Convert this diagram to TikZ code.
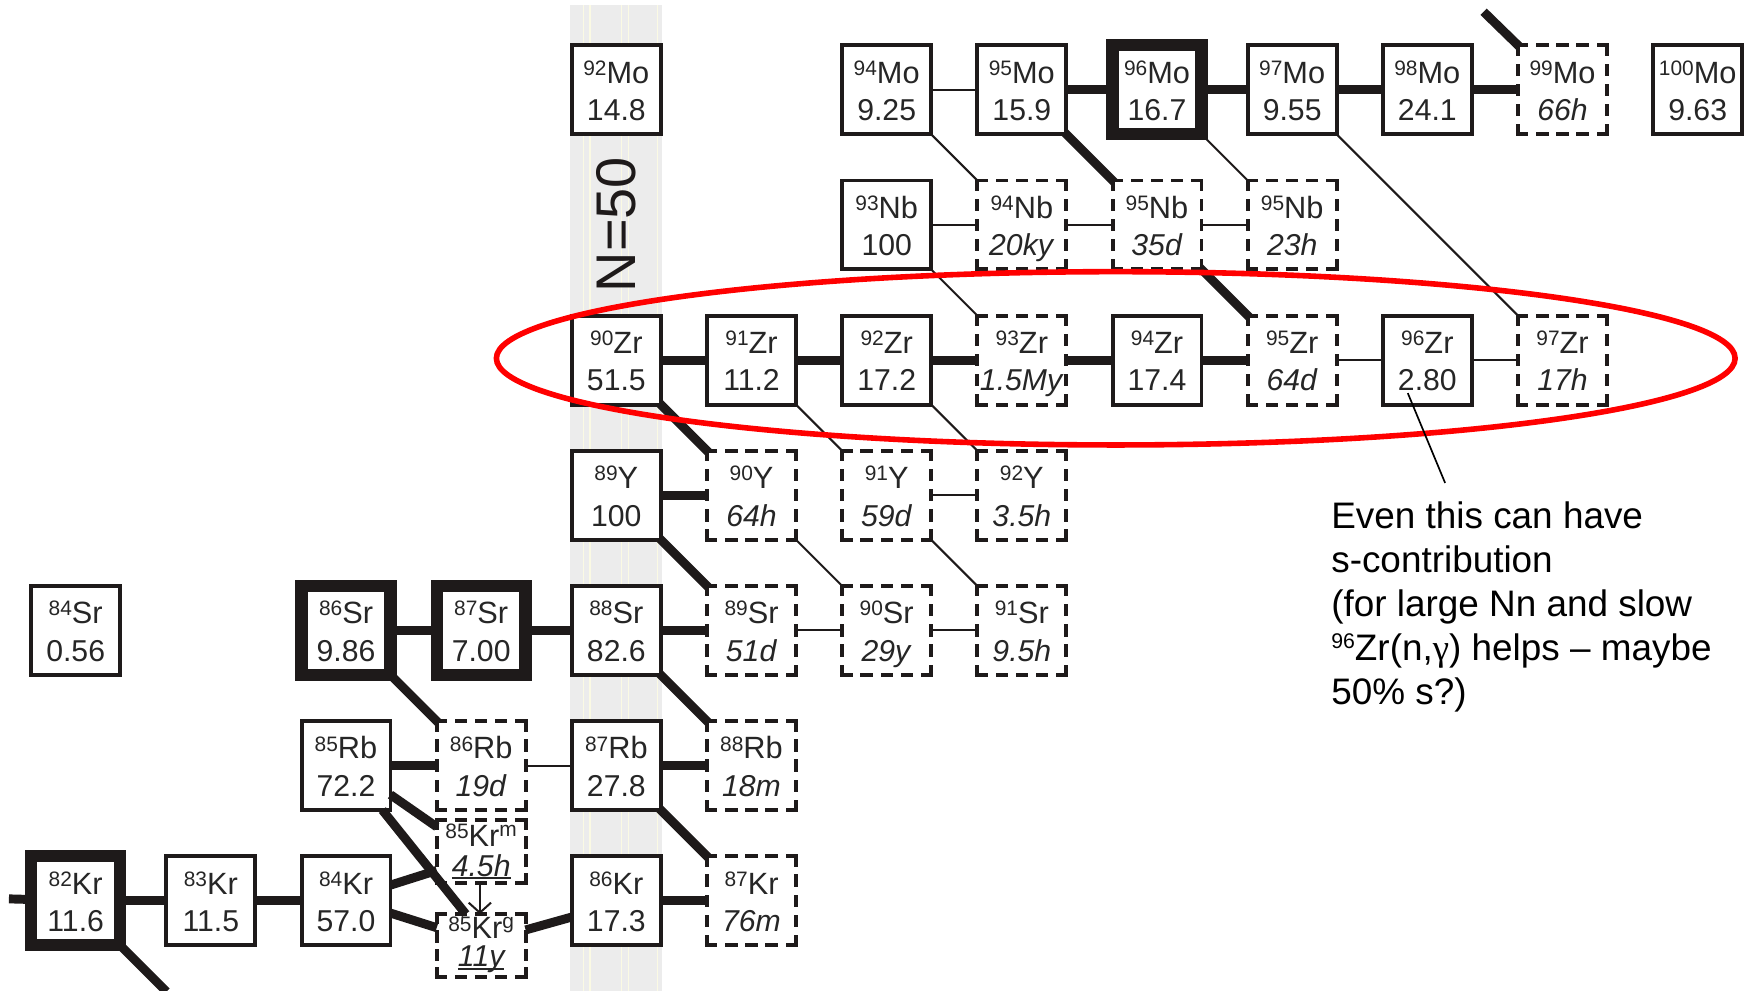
\documentclass[tikz,border=0pt]{standalone}
\usepackage{fontspec}
\setmainfont{Liberation Sans}
\newfontfamily\serifgreek{Liberation Serif}
\usetikzlibrary{calc,arrows.meta}
\pgfdeclarelayer{bg}
\pgfdeclarelayer{conn}
\pgfsetlayers{bg,conn,main}
\definecolor{ink}{HTML}{1E1A1A}
\definecolor{txt}{HTML}{262626}
\definecolor{bandgray}{HTML}{ECECEC}
\definecolor{bandline}{HTML}{FBFAE4}
\newcommand\ms[1]{\raisebox{7pt}{\fontsize{18.7}{18.7}\selectfont #1}}
\newcommand\sps[1]{\raisebox{9pt}{\fontsize{18.7}{18.7}\selectfont #1}}
\newcommand\ulx[1]{\leavevmode\setbox0=\hbox{#1}\rlap{\rule[-2.5pt]{\wd0}{1.3pt}}\box0}
\tikzset{
  box/.style={rectangle, draw=ink, line width=3.5pt, fill=white, minimum width=79.5pt, minimum height=79.5pt, inner sep=0pt, outer sep=0pt},
  bigbox/.style={box, line width=11pt},
  dbox/.style={box, draw=none},
  side/.style={draw=ink, line width=3.5pt, line cap=rect, dash pattern=on 7.5pt off 10.5pt},
  sidev/.style={side, dash pattern=on 7.5pt off 8.8pt},
  lbl/.style={anchor=base, inner sep=0pt, outer sep=0pt, text=txt, font=\fontsize{27.5}{27.5}\selectfont},
  vlbl/.style={lbl, font=\fontsize{27}{27}\selectfont},
  thickc/.style={draw=ink, line width=8pt, shorten <=-5pt, shorten >=-5pt},
  freec/.style={draw=ink, line width=8pt},
  thinc/.style={draw=ink, line width=1.8pt, shorten <=-3pt, shorten >=-3pt},
  mgc/.style={draw=ink, line width=8pt},
}
\newcommand\isot[7][box]{%
  \node[#1] (#2) at ({551.3+120.9*(#3-50)},{80.3+120.9*(42-#4)}) {};
  \node[lbl] (#2s) at ([yshift=6pt]#2.center) {\ms{#5}#6};
  \node[vlbl] (#2v) at ([yshift=-27.5pt]#2.center) {#7};
}
\newcommand\dsides[1]{%
  \draw[side] (#1.north west) -- (#1.north east);
  \draw[side] (#1.south west) -- (#1.south east);
  \draw[side] (#1.north west) -- (#1.south west);
  \draw[side] (#1.north east) -- (#1.south east);
}
\begin{document}
\begin{tikzpicture}[x=1pt, y=-1pt]
\useasboundingbox (0,0) rectangle (1568,886);
\begin{pgfonlayer}{bg}
  \fill[white] (0,0) rectangle (1568,886);
  \fill[bandgray] (509.8,4.5) rectangle (591.8,886);
  \foreach \lx in {521.8,527.7,556,562,588}
    \draw[bandline, line width=1.3pt] (\lx,4.5) -- (\lx,886);
\end{pgfonlayer}
\node[inner sep=0pt, rotate=90, text=ink, font=\fontsize{50}{50}\selectfont] (nlab) at (551.5,201) {N=50};

% Mo row
\isot{mo92}{50}{42}{92}{Mo}{14.8}
\isot{mo94}{52}{42}{94}{Mo}{9.25}
\isot{mo95}{53}{42}{95}{Mo}{15.9}
\isot[bigbox]{mo96}{54}{42}{96}{Mo}{16.7}
\isot{mo97}{55}{42}{97}{Mo}{9.55}
\isot{mo98}{56}{42}{98}{Mo}{24.1}
\isot[dbox]{mo99}{57}{42}{99}{Mo}{\textit{66h}}\dsides{mo99}
\isot{mo100}{58}{42}{100}{Mo}{9.63}
% Nb row
\isot{nb93}{52}{41}{93}{Nb}{100}
\isot[dbox]{nb94}{53}{41}{94}{Nb}{\textit{20ky}}\dsides{nb94}
\isot[dbox]{nb95}{54}{41}{95}{Nb}{\textit{35d}}\dsides{nb95}
\isot[dbox]{nb96}{55}{41}{95}{Nb}{\textit{23h}}\dsides{nb96}
% Zr row
\isot{zr90}{50}{40}{90}{Zr}{51.5}
\isot{zr91}{51}{40}{91}{Zr}{11.2}
\isot{zr92}{52}{40}{92}{Zr}{17.2}
\isot[dbox]{zr93}{53}{40}{93}{Zr}{\textit{1.5My}}\dsides{zr93}
\isot{zr94}{54}{40}{94}{Zr}{17.4}
\isot[dbox]{zr95}{55}{40}{95}{Zr}{\textit{64d}}\dsides{zr95}
\isot{zr96}{56}{40}{96}{Zr}{2.80}
\isot[dbox]{zr97}{57}{40}{97}{Zr}{\textit{17h}}\dsides{zr97}
% Y row
\isot{y89}{50}{39}{89}{Y}{100}
\isot[dbox]{y90}{51}{39}{90}{Y}{\textit{64h}}\dsides{y90}
\isot[dbox]{y91}{52}{39}{91}{Y}{\textit{59d}}\dsides{y91}
\isot[dbox]{y92}{53}{39}{92}{Y}{\textit{3.5h}}\dsides{y92}
% Sr row
\isot{sr84}{46}{38}{84}{Sr}{0.56}
\isot[bigbox]{sr86}{48}{38}{86}{Sr}{9.86}
\isot[bigbox]{sr87}{49}{38}{87}{Sr}{7.00}
\isot{sr88}{50}{38}{88}{Sr}{82.6}
\isot[dbox]{sr89}{51}{38}{89}{Sr}{\textit{51d}}\dsides{sr89}
\isot[dbox]{sr90}{52}{38}{90}{Sr}{\textit{29y}}\dsides{sr90}
\isot[dbox]{sr91}{53}{38}{91}{Sr}{\textit{9.5h}}\dsides{sr91}
% Rb row
\isot{rb85}{48}{37}{85}{Rb}{72.2}
\isot[dbox]{rb86}{49}{37}{86}{Rb}{\textit{19d}}\dsides{rb86}
\isot{rb87}{50}{37}{87}{Rb}{27.8}
\isot[dbox]{rb88}{51}{37}{88}{Rb}{\textit{18m}}\dsides{rb88}
% Kr row
\isot[bigbox]{kr82}{46}{36}{82}{Kr}{11.6}
\isot{kr83}{47}{36}{83}{Kr}{11.5}
\isot{kr84}{48}{36}{84}{Kr}{57.0}
\isot{kr86}{50}{36}{86}{Kr}{17.3}
\isot[dbox]{kr87}{51}{36}{87}{Kr}{\textit{76m}}\dsides{kr87}
% 85Kr isomer and ground state
\node[dbox, minimum height=56.4pt] (kr85m) at (430.4,761.6) {};
\node[lbl] (kr85ms) at ([yshift=4.5pt]kr85m.center) {\ms{85}Kr\sps{m}};
\node[vlbl] (kr85mv) at ([yshift=-22pt]kr85m.center) {\ulx{\itshape 4.5h}};
\draw[side] (kr85m.north west) -- (kr85m.north east);
\draw[side] (kr85m.south west) -- (kr85m.south east);
\draw[sidev] (kr85m.north west) -- (kr85m.south west);
\draw[sidev] (kr85m.north east) -- (kr85m.south east);
\node[dbox, minimum height=56.4pt] (kr85g) at (430.4,845.8) {};
\node[lbl] (kr85gs) at ([yshift=6pt]kr85g.center) {\ms{85}Kr\sps{g}};
\node[vlbl] (kr85gv) at ([yshift=-19pt]kr85g.center) {\ulx{\itshape 11y}};
\draw[side] (kr85g.north west) -- (kr85g.north east);
\draw[side] (kr85g.south west) -- (kr85g.south east);
\draw[sidev] (kr85g.north west) -- (kr85g.south west);
\draw[sidev] (kr85g.north east) -- (kr85g.south east);

% free ends
\coordinate (krL) at (8,804);
\coordinate (krD) at (149,887);
\coordinate (moU) at (1327,10.5);

\begin{pgfonlayer}{conn}
  % thick neutron captures
  \draw[freec, shorten >=-5pt] (krL) -- (kr82);
  \draw[thickc] (kr82) -- (kr83);
  \draw[thickc] (kr83) -- (kr84);
  \draw[thickc] (kr86) -- (kr87);
  \draw[thickc] (rb85) -- (rb86);
  \draw[thickc] (rb87) -- (rb88);
  \draw[thickc] (sr86) -- (sr87);
  \draw[thickc] (sr87) -- (sr88);
  \draw[thickc] (sr88) -- (sr89);
  \draw[thickc] (y89) -- (y90);
  \draw[thickc] (zr90) -- (zr91);
  \draw[thickc] (zr91) -- (zr92);
  \draw[thickc] (zr92) -- (zr93);
  \draw[thickc] (zr93) -- (zr94);
  \draw[thickc] (zr94) -- (zr95);
  \draw[thickc] (mo95) -- (mo96);
  \draw[thickc] (mo96) -- (mo97);
  \draw[thickc] (mo97) -- (mo98);
  \draw[thickc] (mo98) -- (mo99);
  % thick decays
  \draw[freec, shorten <=-5pt] (kr82.south east) -- (krD);
  \draw[thickc] (sr86.south east) -- (rb86.north west);
  \draw[thickc] (rb87.south east) -- (kr87.north west);
  \draw[thickc] (sr88.south east) -- (rb88.north west);
  \draw[thickc] (y89.south east) -- (sr89.north west);
  \draw[thickc] (zr90.south east) -- (y90.north west);
  \draw[thickc] (mo95.south east) -- (nb95.north west);
  \draw[thickc] (nb95.south east) -- (zr95.north west);
  \draw[freec, shorten <=-5pt] (mo99.north west) -- (moU);
  % thin
  \draw[thinc] (rb86) -- (rb87);
  \draw[thinc] (sr89) -- (sr90);
  \draw[thinc] (sr90) -- (sr91);
  \draw[thinc] (y91) -- (y92);
  \draw[thinc] (zr95) -- (zr96);
  \draw[thinc] (zr96) -- (zr97);
  \draw[thinc] (nb93) -- (nb94);
  \draw[thinc] (nb94) -- (nb95);
  \draw[thinc] (nb95) -- (nb96);
  \draw[thinc] (mo94) -- (mo95);
  \draw[thinc] (zr91.south east) -- (y91.north west);
  \draw[thinc] (zr92.south east) -- (y92.north west);
  \draw[thinc] (y90.south east) -- (sr90.north west);
  \draw[thinc] (y91.south east) -- (sr91.north west);
  \draw[thinc] (mo94.south east) -- (nb94.north west);
  \draw[thinc] (mo96.south east) -- (nb96.north west);
  \draw[thinc] (nb93.south east) -- (zr93.north west);
  \draw[thinc] (mo97.south east) -- (zr97.north west);
\end{pgfonlayer}

% connectors of the 85Kr states
\draw[mgc] ($(rb85.east)+(0,26)$) -- ($(kr85m.west)+(0,-22)$);
\draw[mgc] ($(kr84.east)+(0,-14)$) -- ($(kr85m.west)+(0,17)$);
\draw[mgc] ($(kr84.east)+(0,11)$) -- ($(kr85g.west)+(0,-16)$);
\draw[mgc] ($(rb85.south)+(32.5,0)$) -- ($(kr85g.north west)+(26,0)$);
\draw[mgc] ($(kr85g.east)+(0,-14)$) -- ($(kr86.west)+(0,14.5)$);
\draw[draw=ink, line width=1.8pt, -{Straight Barb[length=9pt,width=20pt]}] ($(kr85m.south)+(-1.2,0)$) -- ($(kr85g.north)+(-1.2,0)$);

% highlight ellipse
\draw[red, line width=5pt] (998,320.5) ellipse [x radius=554pt, y radius=77.5pt];

% annotation
\node[anchor=base west, inner sep=0pt, text=black, font=\fontsize{33}{39.5}\selectfont] (note) at (1190.6,472.4)
  {\begin{tabular}[t]{@{}l@{}}Even this can have\\ s-contribution\\ (for large Nn and slow\\ \raisebox{10.5pt}{\fontsize{19}{19}\selectfont 96}Zr(n,{\serifgreek γ}) helps – maybe\\ 50\% s?)\end{tabular}};
\coordinate (zr96pt) at ($(zr96.center)+(-17.5,29.5)$);
\draw[black, line width=1.5pt] (zr96pt) -- ($(note.base west)+(102,-40.4)$);
\end{tikzpicture}
\end{document}
